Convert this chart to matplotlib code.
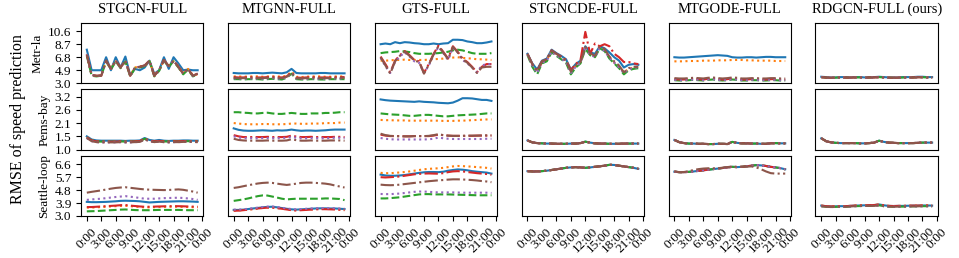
import matplotlib
matplotlib.use("Agg")
import matplotlib.pyplot as plt

plt.rcParams["font.family"] = ["Liberation Serif", "DejaVu Serif"]

models = ["STGCN-FULL", "MTGNN-FULL", "GTS-FULL", "STGNCDE-FULL", "MTGODE-FULL", "RDGCN-FULL (ours)"]
datasets = ["Metr-la", "Pems-bay", "Seattle-loop"]
hours = list(range(24))
xtick_pos = [0, 3, 6, 9, 12, 15, 18, 21, 24]
xtick_labels = ["0:00", "3:00", "6:00", "9:00", "12:00", "15:00", "18:00", "21:00", "0:00"]
ytick_vals = [[3.0, 4.9, 6.8, 8.7, 10.6], [1.0, 1.55, 2.1, 2.65, 3.2], [3.0, 3.9, 4.8, 5.7, 6.6]]
ytick_labels = [["3.0", "4.9", "6.8", "8.7", "10.6"], ["1.0", "1.5", "2.1", "2.6", "3.2"],
                ["3.0", "3.9", "4.8", "5.7", "6.6"]]
ylims = [(3.0, 11.8), (1.0, 3.5), (3.0, 7.2)]

# series order in every panel: blue, orange, green, red, purple, brown
# ---- Metr-la ----
stgcn_metr_blue = [7.9, 4.9, 4.9, 4.9, 6.8, 4.9, 6.8, 5.3, 6.9, 4.2, 5.1, 4.9, 5.3, 6.3, 4.4, 4.9, 6.8, 5.1, 6.8, 5.9, 4.9, 5.0, 4.9, 4.9]
stgcn_metr_orange = [7.1, 4.2, 4.1, 4.2, 6.2, 5.2, 6.2, 5.4, 6.2, 4.2, 5.3, 5.5, 5.5, 6.2, 4.2, 4.9, 6.3, 5.6, 6.2, 5.5, 4.5, 5.1, 4.2, 4.3]
stgcn_metr_green = [7.0, 4.1, 4.0, 4.1, 6.2, 5.0, 6.2, 5.2, 6.2, 4.0, 5.2, 5.3, 5.5, 6.2, 4.0, 4.8, 6.3, 5.4, 6.2, 5.3, 4.3, 5.0, 4.0, 4.3]
stgcn_metr_rest = [7.2, 4.2, 4.1, 4.1, 6.3, 5.1, 6.3, 5.3, 6.3, 4.1, 5.3, 5.4, 5.6, 6.3, 4.1, 4.9, 6.4, 5.5, 6.3, 5.4, 4.4, 5.1, 4.1, 4.4]

mtgnn_metr_blue = [4.5, 4.45, 4.45, 4.45, 4.5, 4.5, 4.45, 4.5, 4.55, 4.5, 4.45, 4.6, 5.1, 4.5, 4.45, 4.45, 4.45, 4.45, 4.5, 4.5, 4.45, 4.45, 4.45, 4.45]
mtgnn_metr_orange = [4.0, 4.0, 3.95, 4.0, 4.0, 4.0, 3.95, 4.0, 4.0, 4.0, 3.95, 4.1, 4.7, 3.95, 3.9, 3.95, 4.0, 4.0, 4.0, 3.95, 3.95, 4.0, 4.0, 4.0]
mtgnn_metr_green = [3.6, 3.6, 3.55, 3.6, 3.6, 3.6, 3.55, 3.6, 3.65, 3.6, 3.55, 3.8, 4.4, 3.6, 3.55, 3.55, 3.6, 3.6, 3.55, 3.55, 3.6, 3.6, 3.6, 3.6]
mtgnn_metr_red = [3.9, 3.85, 3.85, 3.9, 3.9, 3.85, 3.85, 3.9, 3.95, 3.9, 3.85, 4.0, 4.6, 3.85, 3.8, 3.85, 3.9, 3.9, 3.85, 3.85, 3.85, 3.9, 3.9, 3.9]
mtgnn_metr_purple = [3.7, 3.7, 3.65, 3.7, 3.7, 3.7, 3.65, 3.7, 3.75, 3.7, 3.65, 3.85, 4.5, 3.7, 3.65, 3.65, 3.7, 3.7, 3.65, 3.65, 3.7, 3.7, 3.7, 3.7]
mtgnn_metr_brown = [3.8, 3.75, 3.75, 3.8, 3.8, 3.75, 3.75, 3.8, 3.85, 3.8, 3.75, 3.95, 4.55, 3.75, 3.7, 3.75, 3.8, 3.8, 3.75, 3.75, 3.75, 3.8, 3.8, 3.8]

gts_metr_blue = [8.7, 8.8, 8.7, 9.0, 8.85, 9.0, 8.95, 8.85, 8.8, 8.7, 8.7, 8.8, 8.7, 8.8, 8.85, 9.35, 9.35, 9.3, 9.1, 9.0, 8.85, 8.85, 8.95, 9.1]
gts_metr_orange = [6.3, 6.3, 6.35, 6.4, 6.4, 6.45, 6.4, 6.4, 6.4, 6.4, 6.45, 6.5, 6.55, 6.6, 6.7, 6.75, 6.8, 6.7, 6.65, 6.6, 6.5, 6.5, 6.45, 6.4]
gts_metr_green = [7.4, 7.5, 7.55, 7.6, 7.7, 7.65, 7.55, 7.4, 7.3, 7.3, 7.3, 7.35, 7.4, 7.5, 7.6, 7.8, 7.9, 7.8, 7.6, 7.4, 7.3, 7.3, 7.3, 7.4]
gts_metr_red = [6.9, 5.8, 4.6, 6.3, 7.1, 7.7, 7.1, 6.4, 6.2, 4.5, 5.8, 7.3, 8.5, 7.6, 6.6, 8.4, 7.6, 6.6, 6.1, 5.4, 4.6, 5.4, 5.8, 5.8]
gts_metr_purple = [6.7, 5.5, 4.5, 6.1, 6.9, 7.5, 6.9, 6.2, 6.0, 4.5, 5.6, 7.1, 8.3, 7.4, 6.4, 8.2, 7.5, 6.4, 5.9, 5.3, 4.6, 5.6, 5.8, 5.8]
gts_metr_brown = [6.8, 5.6, 4.4, 6.2, 7.0, 7.6, 7.0, 6.3, 6.1, 4.4, 5.7, 7.2, 8.4, 7.5, 6.5, 8.3, 7.5, 6.5, 6.0, 5.3, 4.5, 5.3, 5.4, 5.4]

stgncde_metr_blue = [7.3, 5.9, 5.0, 6.3, 6.6, 7.9, 7.4, 7.0, 6.5, 5.0, 5.8, 6.3, 8.4, 7.5, 7.3, 8.4, 8.1, 7.5, 6.8, 6.3, 5.3, 5.7, 5.8, 5.7]
stgncde_metr_orange = [7.2, 5.6, 4.6, 6.1, 6.4, 7.7, 7.2, 6.7, 6.2, 4.6, 5.5, 6.0, 8.1, 7.3, 6.9, 8.2, 7.8, 6.8, 6.0, 5.4, 4.6, 5.1, 5.3, 5.3]
stgncde_metr_green = [7.1, 5.4, 4.3, 5.9, 6.2, 7.5, 7.0, 6.5, 6.0, 4.3, 5.3, 5.9, 8.0, 7.1, 6.8, 8.1, 7.7, 6.6, 5.9, 5.2, 4.3, 4.9, 5.1, 5.2]
stgncde_metr_red = [7.3, 5.8, 4.8, 6.2, 6.5, 7.8, 7.3, 6.9, 6.4, 4.9, 5.8, 6.4, 10.5, 7.3, 8.8, 8.4, 8.7, 8.4, 7.3, 6.8, 6.1, 6.1, 5.9, 5.8]
stgncde_metr_purple = [7.2, 5.6, 4.5, 6.0, 6.3, 7.6, 7.1, 6.6, 6.1, 4.5, 5.4, 6.0, 8.0, 7.2, 6.8, 8.1, 7.7, 6.7, 6.0, 5.3, 4.5, 5.0, 5.3, 5.3]
stgncde_metr_brown = [7.3, 5.8, 4.8, 6.2, 6.5, 7.8, 7.3, 6.8, 6.3, 4.7, 5.6, 6.1, 8.3, 7.4, 7.0, 8.4, 8.0, 6.9, 6.2, 5.6, 4.6, 5.2, 5.4, 5.4]

mtgode_metr_blue = [6.8, 6.75, 6.75, 6.8, 6.85, 6.9, 6.95, 7.0, 7.05, 7.1, 7.05, 7.0, 6.8, 6.75, 6.75, 6.8, 6.8, 6.75, 6.8, 6.85, 6.85, 6.8, 6.8, 6.8]
mtgode_metr_orange = [6.2, 6.2, 6.2, 6.25, 6.25, 6.25, 6.3, 6.3, 6.3, 6.35, 6.35, 6.35, 6.4, 6.4, 6.4, 6.35, 6.35, 6.3, 6.3, 6.3, 6.3, 6.25, 6.25, 6.25]
mtgode_metr_green = [3.45, 3.4, 3.4, 3.45, 3.5, 3.45, 3.4, 3.5, 3.55, 3.45, 3.4, 3.45, 3.55, 3.5, 3.4, 3.4, 3.45, 3.45, 3.4, 3.4, 3.45, 3.45, 3.4, 3.4]
mtgode_metr_red = [3.6, 3.55, 3.55, 3.6, 3.65, 3.6, 3.55, 3.65, 3.7, 3.6, 3.55, 3.6, 3.7, 3.65, 3.55, 3.55, 3.6, 3.6, 3.55, 3.55, 3.6, 3.6, 3.55, 3.55]
mtgode_metr_purple = [3.5, 3.45, 3.45, 3.5, 3.55, 3.5, 3.45, 3.55, 3.6, 3.5, 3.45, 3.5, 3.6, 3.55, 3.45, 3.45, 3.5, 3.5, 3.45, 3.45, 3.5, 3.5, 3.45, 3.45]
mtgode_metr_brown = [3.75, 3.7, 3.7, 3.75, 3.8, 3.75, 3.7, 3.8, 3.85, 3.75, 3.7, 3.75, 3.85, 3.8, 3.7, 3.7, 3.75, 3.75, 3.7, 3.7, 3.75, 3.75, 3.7, 3.7]

rdgcn_metr_blue = [3.95, 3.9, 3.85, 3.85, 3.9, 3.9, 3.85, 3.9, 3.9, 3.85, 3.9, 3.9, 3.95, 3.9, 3.85, 3.85, 3.85, 3.9, 3.9, 3.9, 3.95, 3.95, 3.9, 3.9]
rdgcn_metr_rest = [3.9, 3.82, 3.8, 3.82, 3.85, 3.83, 3.82, 3.85, 3.86, 3.82, 3.84, 3.85, 3.9, 3.85, 3.82, 3.8, 3.82, 3.84, 3.85, 3.84, 3.88, 3.88, 3.85, 3.84]

# ---- Pems-bay ----
stgcn_pems_blue = [1.55, 1.42, 1.38, 1.37, 1.37, 1.37, 1.37, 1.37, 1.36, 1.37, 1.37, 1.38, 1.48, 1.40, 1.37, 1.40, 1.37, 1.36, 1.37, 1.37, 1.38, 1.38, 1.37, 1.37]
stgcn_pems_mid = [1.51, 1.38, 1.34, 1.33, 1.33, 1.33, 1.33, 1.34, 1.33, 1.33, 1.34, 1.35, 1.45, 1.37, 1.34, 1.36, 1.34, 1.33, 1.34, 1.34, 1.35, 1.35, 1.34, 1.34]
stgcn_pems_brown = [1.48, 1.35, 1.31, 1.30, 1.30, 1.30, 1.30, 1.31, 1.30, 1.30, 1.31, 1.32, 1.42, 1.35, 1.31, 1.33, 1.31, 1.30, 1.31, 1.31, 1.32, 1.33, 1.32, 1.31]

mtgnn_pems_blue = [1.88, 1.82, 1.79, 1.78, 1.78, 1.79, 1.8, 1.79, 1.78, 1.8, 1.79, 1.8, 1.83, 1.8, 1.78, 1.79, 1.79, 1.78, 1.79, 1.8, 1.82, 1.83, 1.83, 1.83]
mtgnn_pems_orange = [2.1, 2.08, 2.06, 2.05, 2.05, 2.05, 2.06, 2.06, 2.05, 2.05, 2.05, 2.06, 2.08, 2.08, 2.07, 2.07, 2.08, 2.08, 2.08, 2.1, 2.1, 2.1, 2.12, 2.12]
mtgnn_pems_green = [2.55, 2.55, 2.53, 2.52, 2.5, 2.5, 2.52, 2.53, 2.5, 2.48, 2.48, 2.5, 2.52, 2.5, 2.48, 2.48, 2.5, 2.5, 2.5, 2.52, 2.52, 2.53, 2.55, 2.55]
mtgnn_pems_red = [1.6, 1.55, 1.52, 1.52, 1.52, 1.52, 1.52, 1.53, 1.52, 1.52, 1.52, 1.53, 1.58, 1.54, 1.52, 1.52, 1.53, 1.52, 1.52, 1.52, 1.52, 1.53, 1.53, 1.52]
mtgnn_pems_purple = [1.55, 1.5, 1.48, 1.47, 1.47, 1.47, 1.48, 1.48, 1.47, 1.47, 1.48, 1.49, 1.53, 1.49, 1.47, 1.47, 1.48, 1.47, 1.47, 1.47, 1.48, 1.49, 1.49, 1.48]
mtgnn_pems_brown = [1.45, 1.4, 1.38, 1.37, 1.37, 1.37, 1.37, 1.38, 1.37, 1.37, 1.37, 1.38, 1.43, 1.39, 1.37, 1.37, 1.38, 1.37, 1.37, 1.37, 1.38, 1.38, 1.38, 1.37]

gts_pems_blue = [3.08, 3.05, 3.03, 3.02, 3.01, 3.0, 2.99, 2.98, 3.0, 2.98, 2.97, 2.96, 2.94, 2.93, 2.92, 2.95, 3.03, 3.13, 3.13, 3.12, 3.09, 3.06, 3.06, 3.02]
gts_pems_orange = [2.23, 2.22, 2.22, 2.21, 2.21, 2.21, 2.2, 2.2, 2.2, 2.2, 2.2, 2.2, 2.2, 2.19, 2.19, 2.19, 2.2, 2.2, 2.21, 2.22, 2.23, 2.24, 2.25, 2.25]
gts_pems_green = [2.5, 2.48, 2.46, 2.45, 2.44, 2.42, 2.4, 2.4, 2.42, 2.44, 2.44, 2.42, 2.4, 2.38, 2.38, 2.4, 2.42, 2.43, 2.44, 2.45, 2.46, 2.48, 2.5, 2.5]
gts_pems_red = [1.62, 1.58, 1.56, 1.56, 1.56, 1.55, 1.55, 1.56, 1.56, 1.56, 1.56, 1.58, 1.62, 1.6, 1.58, 1.57, 1.57, 1.57, 1.57, 1.57, 1.58, 1.58, 1.58, 1.58]
gts_pems_purple = [1.48, 1.45, 1.43, 1.42, 1.42, 1.42, 1.42, 1.42, 1.42, 1.42, 1.43, 1.45, 1.5, 1.47, 1.45, 1.44, 1.44, 1.44, 1.44, 1.44, 1.44, 1.44, 1.45, 1.45]
gts_pems_brown = [1.66, 1.6, 1.57, 1.56, 1.55, 1.55, 1.55, 1.56, 1.56, 1.56, 1.57, 1.6, 1.64, 1.6, 1.58, 1.57, 1.57, 1.57, 1.58, 1.58, 1.58, 1.59, 1.59, 1.59]

stgncde_pems_all = [1.38, 1.30, 1.27, 1.26, 1.25, 1.25, 1.24, 1.24, 1.24, 1.25, 1.25, 1.27, 1.33, 1.29, 1.26, 1.25, 1.25, 1.24, 1.24, 1.24, 1.25, 1.25, 1.25, 1.25]
mtgode_pems_all = [1.40, 1.31, 1.27, 1.25, 1.25, 1.24, 1.24, 1.23, 1.23, 1.24, 1.24, 1.23, 1.32, 1.28, 1.26, 1.26, 1.25, 1.25, 1.24, 1.24, 1.26, 1.27, 1.26, 1.26]
rdgcn_pems_all = [1.47, 1.35, 1.30, 1.28, 1.27, 1.27, 1.27, 1.27, 1.26, 1.26, 1.27, 1.29, 1.37, 1.32, 1.29, 1.28, 1.27, 1.27, 1.27, 1.27, 1.28, 1.29, 1.29, 1.29]

# ---- Seattle-loop ----
stgcn_seat_blue = [3.98, 3.96, 3.96, 3.97, 3.98, 4.0, 4.02, 4.05, 4.06, 4.05, 4.04, 4.02, 3.98, 3.94, 3.96, 3.98, 3.99, 4.0, 4.01, 4.02, 4.02, 4.01, 4.0, 3.98]
stgcn_seat_orange = [3.58, 3.58, 3.6, 3.62, 3.64, 3.66, 3.68, 3.7, 3.71, 3.68, 3.65, 3.62, 3.6, 3.6, 3.61, 3.62, 3.63, 3.64, 3.64, 3.64, 3.63, 3.62, 3.61, 3.6]
stgcn_seat_green = [3.32, 3.33, 3.34, 3.36, 3.38, 3.4, 3.42, 3.44, 3.45, 3.43, 3.41, 3.4, 3.4, 3.4, 3.41, 3.42, 3.42, 3.42, 3.42, 3.42, 3.41, 3.4, 3.4, 3.4]
stgcn_seat_red = [3.62, 3.62, 3.64, 3.66, 3.68, 3.7, 3.72, 3.75, 3.76, 3.72, 3.69, 3.66, 3.64, 3.64, 3.65, 3.66, 3.67, 3.68, 3.68, 3.68, 3.67, 3.66, 3.65, 3.64]
stgcn_seat_purple = [4.12, 4.15, 4.18, 4.2, 4.24, 4.28, 4.32, 4.35, 4.38, 4.34, 4.3, 4.25, 4.2, 4.2, 4.2, 4.22, 4.24, 4.25, 4.26, 4.27, 4.25, 4.22, 4.18, 4.12]
stgcn_seat_brown = [4.62, 4.68, 4.73, 4.78, 4.84, 4.9, 4.95, 4.98, 5.0, 4.96, 4.92, 4.88, 4.85, 4.83, 4.82, 4.81, 4.8, 4.81, 4.83, 4.85, 4.82, 4.76, 4.7, 4.62]

mtgnn_seat_blue = [3.42, 3.42, 3.44, 3.48, 3.52, 3.56, 3.6, 3.63, 3.64, 3.6, 3.55, 3.5, 3.46, 3.44, 3.46, 3.48, 3.5, 3.52, 3.53, 3.53, 3.52, 3.52, 3.5, 3.48]
mtgnn_seat_orange = [3.38, 3.38, 3.4, 3.44, 3.48, 3.52, 3.56, 3.59, 3.6, 3.56, 3.51, 3.46, 3.42, 3.4, 3.42, 3.44, 3.46, 3.48, 3.49, 3.49, 3.48, 3.48, 3.46, 3.44]
mtgnn_seat_green = [4.05, 4.1, 4.15, 4.22, 4.3, 4.38, 4.43, 4.42, 4.35, 4.28, 4.2, 4.15, 4.18, 4.2, 4.2, 4.2, 4.2, 4.2, 4.2, 4.22, 4.22, 4.2, 4.18, 4.1]
mtgnn_seat_red = [3.36, 3.37, 3.4, 3.44, 3.48, 3.52, 3.55, 3.58, 3.58, 3.54, 3.5, 3.45, 3.4, 3.38, 3.4, 3.42, 3.44, 3.46, 3.47, 3.47, 3.46, 3.45, 3.43, 3.4]
mtgnn_seat_purple = [3.44, 3.44, 3.46, 3.5, 3.54, 3.58, 3.62, 3.65, 3.66, 3.62, 3.57, 3.52, 3.48, 3.46, 3.48, 3.5, 3.52, 3.54, 3.55, 3.55, 3.54, 3.54, 3.52, 3.5]
mtgnn_seat_brown = [4.95, 5.0, 5.07, 5.14, 5.2, 5.26, 5.3, 5.32, 5.3, 5.25, 5.2, 5.16, 5.2, 5.25, 5.3, 5.32, 5.32, 5.3, 5.28, 5.25, 5.2, 5.12, 5.05, 4.98]

gts_seat_blue = [5.88, 5.82, 5.8, 5.8, 5.82, 5.85, 5.9, 5.95, 6.0, 6.04, 6.06, 6.06, 6.05, 6.08, 6.15, 6.2, 6.24, 6.22, 6.18, 6.12, 6.08, 6.05, 6.02, 5.95]
gts_seat_orange = [6.0, 5.98, 5.98, 6.0, 6.03, 6.06, 6.1, 6.15, 6.2, 6.25, 6.28, 6.3, 6.32, 6.35, 6.4, 6.45, 6.48, 6.47, 6.45, 6.43, 6.4, 6.38, 6.35, 6.3]
gts_seat_green = [4.22, 4.22, 4.24, 4.27, 4.3, 4.35, 4.4, 4.45, 4.5, 4.52, 4.52, 4.5, 4.5, 4.5, 4.5, 4.49, 4.48, 4.47, 4.46, 4.45, 4.44, 4.44, 4.44, 4.44]
gts_seat_red = [5.7, 5.68, 5.7, 5.72, 5.75, 5.8, 5.85, 5.9, 5.93, 5.95, 5.96, 5.95, 5.94, 5.98, 6.05, 6.1, 6.12, 6.1, 6.06, 6.02, 5.98, 5.95, 5.92, 5.87]
gts_seat_purple = [4.53, 4.52, 4.52, 4.54, 4.56, 4.6, 4.64, 4.68, 4.7, 4.7, 4.68, 4.66, 4.64, 4.64, 4.64, 4.64, 4.63, 4.62, 4.62, 4.62, 4.62, 4.62, 4.62, 4.6]
gts_seat_brown = [5.18, 5.15, 5.14, 5.15, 5.18, 5.22, 5.26, 5.3, 5.34, 5.38, 5.42, 5.45, 5.48, 5.5, 5.53, 5.55, 5.55, 5.54, 5.52, 5.5, 5.47, 5.43, 5.4, 5.35]

stgncde_seat_all = [6.12, 6.1, 6.1, 6.12, 6.15, 6.2, 6.25, 6.3, 6.35, 6.38, 6.4, 6.38, 6.35, 6.38, 6.42, 6.46, 6.5, 6.56, 6.55, 6.5, 6.45, 6.4, 6.35, 6.28]
mtgode_seat_all = [6.08, 6.05, 6.05, 6.07, 6.1, 6.14, 6.18, 6.22, 6.26, 6.3, 6.34, 6.38, 6.42, 6.4, 6.42, 6.46, 6.5, 6.54, 6.52, 6.48, 6.42, 6.38, 6.33, 6.25]
mtgode_seat_brown = [6.1, 6.05, 6.06, 6.12, 6.2, 6.26, 6.3, 6.32, 6.32, 6.32, 6.36, 6.4, 6.45, 6.42, 6.42, 6.44, 6.45, 6.38, 6.25, 6.1, 5.98, 5.95, 5.95, 5.95]
rdgcn_seat_blue = [3.72, 3.68, 3.66, 3.67, 3.68, 3.68, 3.7, 3.72, 3.73, 3.74, 3.75, 3.76, 3.8, 3.74, 3.7, 3.69, 3.7, 3.7, 3.71, 3.72, 3.72, 3.73, 3.73, 3.72]
rdgcn_seat_rest = [3.68, 3.64, 3.62, 3.63, 3.64, 3.64, 3.66, 3.68, 3.69, 3.7, 3.7, 3.7, 3.74, 3.68, 3.65, 3.64, 3.65, 3.65, 3.66, 3.67, 3.67, 3.68, 3.68, 3.67]

panels = [
    [
        [stgcn_metr_blue, stgcn_metr_orange, stgcn_metr_green, stgcn_metr_rest, stgcn_metr_rest, stgcn_metr_rest],
        [mtgnn_metr_blue, mtgnn_metr_orange, mtgnn_metr_green, mtgnn_metr_red, mtgnn_metr_purple, mtgnn_metr_brown],
        [gts_metr_blue, gts_metr_orange, gts_metr_green, gts_metr_red, gts_metr_purple, gts_metr_brown],
        [stgncde_metr_blue, stgncde_metr_orange, stgncde_metr_green, stgncde_metr_red, stgncde_metr_purple, stgncde_metr_brown],
        [mtgode_metr_blue, mtgode_metr_orange, mtgode_metr_green, mtgode_metr_red, mtgode_metr_purple, mtgode_metr_brown],
        [rdgcn_metr_blue, rdgcn_metr_rest, rdgcn_metr_rest, rdgcn_metr_rest, rdgcn_metr_rest, rdgcn_metr_rest],
    ],
    [
        [stgcn_pems_blue, stgcn_pems_mid, stgcn_pems_mid, stgcn_pems_mid, stgcn_pems_brown, stgcn_pems_brown],
        [mtgnn_pems_blue, mtgnn_pems_orange, mtgnn_pems_green, mtgnn_pems_red, mtgnn_pems_purple, mtgnn_pems_brown],
        [gts_pems_blue, gts_pems_orange, gts_pems_green, gts_pems_red, gts_pems_purple, gts_pems_brown],
        [stgncde_pems_all] * 6,
        [mtgode_pems_all] * 6,
        [rdgcn_pems_all] * 6,
    ],
    [
        [stgcn_seat_blue, stgcn_seat_orange, stgcn_seat_green, stgcn_seat_red, stgcn_seat_purple, stgcn_seat_brown],
        [mtgnn_seat_blue, mtgnn_seat_orange, mtgnn_seat_green, mtgnn_seat_red, mtgnn_seat_purple, mtgnn_seat_brown],
        [gts_seat_blue, gts_seat_orange, gts_seat_green, gts_seat_red, gts_seat_purple, gts_seat_brown],
        [stgncde_seat_all] * 6,
        [mtgode_seat_all, mtgode_seat_all, mtgode_seat_all, mtgode_seat_all, mtgode_seat_all, mtgode_seat_brown],
        [rdgcn_seat_blue, rdgcn_seat_blue, rdgcn_seat_rest, rdgcn_seat_blue, rdgcn_seat_rest, rdgcn_seat_rest],
    ],
]

colors = ["#1f77b4", "#ff7f0e", "#2ca02c", "#d62728", "#9467bd", "#8c564b"]
styles = ["-", ":", "--", "-.", ":", "-."]

fig, axes = plt.subplots(3, 6, figsize=(9.59, 2.58), dpi=100)
fig.subplots_adjust(left=0.0845, right=0.978, top=0.911, bottom=0.163, wspace=0.2, hspace=0.1)

for r in range(3):
    for c in range(6):
        ax = axes[r, c]
        for s in range(6):
            ax.plot(hours, panels[r][c][s], color=colors[s], ls=styles[s], lw=1.5)
        ax.set_ylim(*ylims[r])
        ax.set_xlim(-1.2, 24.2)
        if r == 0:
            ax.set_title(models[c], fontsize=10.5, pad=7)
        if r == 2:
            ax.set_xticks(xtick_pos)
            ax.set_xticklabels(xtick_labels, rotation=45, fontsize=9.5)
        else:
            ax.set_xticks([])
        if c == 0:
            ax.set_yticks(ytick_vals[r])
            ax.set_yticklabels(ytick_labels[r], fontsize=9.5)
            ax.set_ylabel(datasets[r], fontsize=9.5, labelpad=3)
        else:
            ax.set_yticks([])

fig.text(0.019, 0.54, "RMSE of speed prediction", rotation=90, va="center", ha="center", fontsize=11.5)

plt.savefig("out.png", dpi=100)
